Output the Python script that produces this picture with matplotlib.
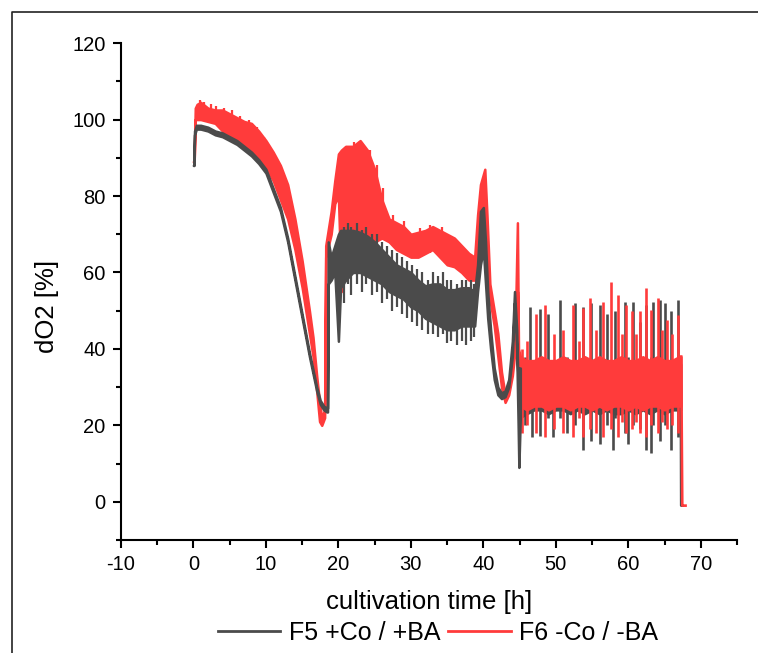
import matplotlib
matplotlib.use("Agg")
import matplotlib.pyplot as plt
from matplotlib.lines import Line2D
from matplotlib.ticker import MultipleLocator

plt.rcParams["font.family"] = ["Liberation Sans", "DejaVu Sans"]
plt.rcParams["axes.unicode_minus"] = False

# ===== data =====
# F5 +Co / +BA : main part, envelope of the noisy signal
f5_t = [0.0, 0.05, 0.15, 0.4, 1, 2, 3, 4, 5, 6, 7, 8, 9, 10, 11, 12, 13, 14, 15, 16, 17,
        17.5, 18.0, 18.4, 18.5, 18.6, 19.0, 19.5, 20.0, 20.3, 21, 22, 23, 24, 25, 26, 27,
        28, 29, 30, 31, 32, 33, 34, 35, 36, 37, 38, 38.8, 39.2, 39.6, 40.0, 40.3, 40.6,
        41, 41.5, 42, 42.5, 43, 43.5, 44, 44.3, 44.6, 44.8, 44.9, 45.1]
f5_lo = [88, 88, 96, 97.5, 97.5, 97, 96, 95.5, 94.5, 93.5, 92, 90.5, 88.5, 86, 81, 76, 68, 58,
         48, 38, 29, 25.5, 24, 23.5, 23.5, 57, 58, 60, 42, 56, 58, 60, 60, 59, 58, 57, 55,
         54, 53, 51, 50, 48, 47, 46, 45, 45, 46, 46, 46, 55, 62, 66, 57, 48,
         40, 32, 28, 27, 27.5, 30, 38, 52, 40, 20, 9, 22]
f5_hi = [88, 88, 97, 98.5, 98.5, 98, 97, 96.5, 95.5, 94.5, 93, 91.5, 89.5, 87, 82, 77, 69, 59,
         49, 39, 30, 26.5, 25, 24.5, 24.5, 68, 64, 67, 70, 71, 71, 71, 70.5, 69.5, 68, 66, 64,
         62, 61, 60, 58, 56.5, 57, 57, 55.5, 55.5, 56, 56, 55, 62, 76, 77, 68, 55,
         45, 35, 30, 28.5, 29, 32, 42, 55, 45, 30, 35, 35]
# single noise spikes in the F5 band (20-39 h)
f5_nz_t = [20.8, 21.3, 21.8, 22.5, 23.2, 23.8, 24.6, 25.3, 26.0, 26.7, 27.4, 28.1, 28.8,
           29.5, 30.2, 30.9, 31.6, 32.3, 33.0, 33.7, 34.4, 35.0, 35.6, 36.3, 37.0, 37.6,
           38.3, 38.7]
f5_nz_lo = [52, 57, 54, 57, 55, 57, 54, 55, 52, 53, 50, 51, 49, 48, 47, 46, 45, 44, 44,
            43, 44, 41.5, 42, 41, 42, 41, 42, 43]
f5_nz_hi = [72, 73, 72, 73, 71, 72, 70, 70, 68, 67, 66, 65, 64, 63, 62, 61, 60, 58, 60,
            59, 60, 58, 58, 57, 58, 58, 58, 57]

# F5 oscillating phase: base band + feeding spikes
f5_osc_t = [45.1, 46, 47, 48, 49, 50, 51, 52, 53, 54, 55, 56, 57, 58, 59, 60, 61, 62,
            63, 64, 65, 66, 67, 67.25]
f5_osc_lo = [22, 23, 24, 24, 23, 24, 24, 23, 24, 23, 24, 23, 24, 23, 23, 24, 23, 24,
             23, 24, 23, 24, 24, 24]
f5_osc_hi = [35, 35, 36, 35, 36, 35, 36, 36, 35, 36, 35, 36, 35, 36, 36, 35, 36, 35,
             36, 35, 36, 35, 36, 36]
f5_spk_t = [45.8, 46.4, 46.65, 47.8, 48.9, 49.6, 50.55, 51.5, 52.6, 53.75, 54.9, 56.05,
            57.0, 57.9, 58.15, 59.5, 60.0, 60.65, 61.6, 62.5, 63.2, 63.45, 64.35, 65.0,
            65.95, 66.85]
f5_spk_lo = [20, 24, 17, 17.3, 22, 17, 22, 18, 20, 13.5, 16, 15, 20, 13.5, 22, 18, 15,
             20, 19, 13.5, 12.7, 20, 16, 20, 13.5, 17]
f5_spk_hi = [38, 51, 36, 50.5, 49, 36, 52.8, 38, 52, 51, 52, 51.5, 49, 37, 50, 52.4, 38,
             52.4, 47, 51.5, 38, 52.4, 52.8, 52, 50, 52.8]
f5_end_t = [67.25, 67.3, 67.5]
f5_end_v = [30, -1, -1]

# F6 -Co / -BA : main part, envelope
f6_t = [0.0, 0.1, 0.25, 0.5, 1, 2, 3, 4, 5, 6, 7, 8, 9, 10, 11, 12, 13, 14, 15, 16, 16.5,
        17, 17.4, 17.7, 18.1, 18.25, 18.5, 19, 19.5, 20, 20.4, 21, 22, 23, 24, 25, 26, 27,
        28, 29, 30, 31, 32, 33, 34, 35, 36, 37, 38, 38.8, 39.2, 39.6, 40.2, 40.5, 40.9,
        41.5, 42, 42.5, 43, 43.5, 44, 44.4, 44.7, 44.85, 45.1]
f6_lo = [89, 89, 100, 100, 100, 99.5, 99, 97, 95.5, 94.5, 93, 92, 90, 87.5, 84, 79, 74, 66,
         56, 44, 38, 29, 21, 20, 22, 64, 66, 70, 78, 80, 55, 62, 65, 66, 68, 68, 69, 68,
         66, 65, 64, 64, 65, 66, 64, 62, 61.5, 60, 58, 58, 60, 70, 78, 60, 53,
         46, 38, 30, 26, 28, 33, 40, 55, 30, 25]
f6_hi = [89, 89, 103, 104, 104.5, 103, 102.5, 102.5, 101.5, 100.5, 99.5, 99, 97, 94.5, 91.5,
         88, 83, 74, 63, 50, 43, 33, 26, 22, 24, 67, 70, 76, 84, 91, 92, 93, 93, 94.5, 92,
         87, 79, 74, 73, 72, 70, 70.5, 71, 72, 71, 70, 69, 67, 65, 64, 75, 83, 87, 75, 57,
         50, 44, 34, 28, 31, 36, 45, 73, 40, 38]
# single noise spikes on the F6 band
f6_nz_t = [0.9, 1.5, 2.4, 3.1, 4.2, 5.3, 6.4, 7.6, 8.7, 9.8, 21.3, 22.2, 23.0, 23.6,
           24.4, 25.3, 26.2, 27.5, 29.0, 31.2, 32.7, 34.3]
f6_nz_lo = [100, 100, 99, 99, 97, 95.5, 94, 92.5, 90.5, 88, 66, 66, 67, 68, 69, 69, 69, 67,
            65, 64, 65, 64]
f6_nz_hi = [105, 104.5, 104, 103.5, 103, 102.5, 101, 100, 98, 95.5, 93, 94, 94.5, 93,
            92, 88, 82, 75, 73.5, 71.5, 72.5, 72]

# F6 oscillating phase
f6_osc_t = [45.1, 46, 47, 48, 49, 50, 51, 52, 53, 54, 55, 56, 57, 58, 59, 60, 61, 62,
            63, 64, 65, 66, 67, 67.3]
f6_osc_lo = [25, 24, 25, 25, 24, 25, 25, 24, 25, 25, 24, 25, 24, 25, 25, 24, 25, 24,
             25, 25, 24, 25, 25, 25]
f6_osc_hi = [38, 37, 37, 38, 37, 37, 38, 37, 37, 38, 37, 38, 37, 37, 38, 37, 37, 38,
             37, 38, 37, 37, 38, 38]
f6_spk_t = [45.3, 46.0, 47.3, 48.5, 49.8, 51.0, 52.4, 53.2, 53.8, 54.7, 55.6, 56.5,
            57.55, 58.6, 59.2, 59.75, 60.45, 61.0, 61.6, 62.4, 63.2, 64.1, 64.7, 65.3,
            66.0, 66.9]
f6_spk_lo = [18, 20, 18, 17, 19, 18, 17, 22, 17, 19, 18, 17, 19, 17, 21, 18, 19, 21, 18,
             17, 20, 18, 21, 19, 20, 18]
f6_spk_hi = [40, 42, 49, 51.5, 44, 45, 51.5, 42, 50.6, 53.2, 45, 52.4, 57.6, 54, 44,
             51.5, 49.8, 44, 49.8, 55.9, 50.2, 53.2, 45, 47.5, 44, 48.9]
f6_end_t = [67.3, 67.45, 67.9]
f6_end_v = [38, -1, -1]

GRAY = "#4b4b4b"
RED = "#ff3b3b"

# ===== plot =====
fig = plt.figure(figsize=(7.58, 6.53), dpi=100)
ax = fig.add_axes([0.1596, 0.173, 0.8127, 0.761])

# F6 (red) below, F5 main part on top
ax.fill_between(f6_t, f6_lo, f6_hi, facecolor=RED, edgecolor=RED, lw=1.8, zorder=2)
ax.vlines(f6_nz_t, f6_nz_lo, f6_nz_hi, color=RED, lw=1.6, zorder=2)
ax.fill_between(f5_osc_t, f5_osc_lo, f5_osc_hi, facecolor=GRAY, edgecolor=GRAY, lw=1.5, zorder=1)
ax.vlines(f5_spk_t, f5_spk_lo, f5_spk_hi, color=GRAY, lw=1.9, zorder=1.5)
ax.fill_between(f6_osc_t, f6_osc_lo, f6_osc_hi, facecolor=RED, edgecolor=RED, lw=1.5, zorder=2)
ax.vlines(f6_spk_t, f6_spk_lo, f6_spk_hi, color=RED, lw=1.9, zorder=2)
ax.plot(f6_end_t, f6_end_v, color=RED, lw=1.9, zorder=2)
ax.plot(f5_end_t, f5_end_v, color=GRAY, lw=1.9, zorder=1.5)
ax.fill_between(f5_t, f5_lo, f5_hi, facecolor=GRAY, edgecolor=GRAY, lw=1.8, zorder=3)
ax.vlines(f5_nz_t, f5_nz_lo, f5_nz_hi, color=GRAY, lw=1.6, zorder=3)

ax.set_xlim(-10, 75)
ax.set_ylim(-10, 120)
ax.xaxis.set_major_locator(MultipleLocator(10))
ax.xaxis.set_minor_locator(MultipleLocator(5))
ax.yaxis.set_minor_locator(MultipleLocator(10))
ax.set_yticks([0, 20, 40, 60, 80, 100, 120])

for s in ["top", "right"]:
    ax.spines[s].set_visible(False)
for s in ["left", "bottom"]:
    ax.spines[s].set_linewidth(1.5)
ax.tick_params(which="major", direction="out", length=6, width=1.5, labelsize=14.5, pad=5)
ax.tick_params(which="minor", direction="out", length=3.5, width=1.5)

ax.set_xlabel("cultivation time [h]", fontsize=18.5)
ax.set_ylabel("dO2 [%]", fontsize=18.5)
ax.xaxis.set_label_coords(0.5, -0.1)
ax.yaxis.set_label_coords(-0.1, 0.47)

handles = [Line2D([], [], color=GRAY, lw=2), Line2D([], [], color=RED, lw=2)]
fig.legend(handles, ["F5 +Co / +BA", "F6 -Co / -BA"], loc="center",
           bbox_to_anchor=(0.578, 0.031), ncol=2, frameon=False, fontsize=18,
           handlelength=2.5, handletextpad=0.35, columnspacing=0.3, borderpad=0)

# frame around the graph page
fx = 12 / 758
fy = 1 - 12 / 653
fig.add_artist(Line2D([fx, fx, 1], [0, fy, fy], color="#222222", lw=1.2))

fig.savefig("out.png", dpi=100)
